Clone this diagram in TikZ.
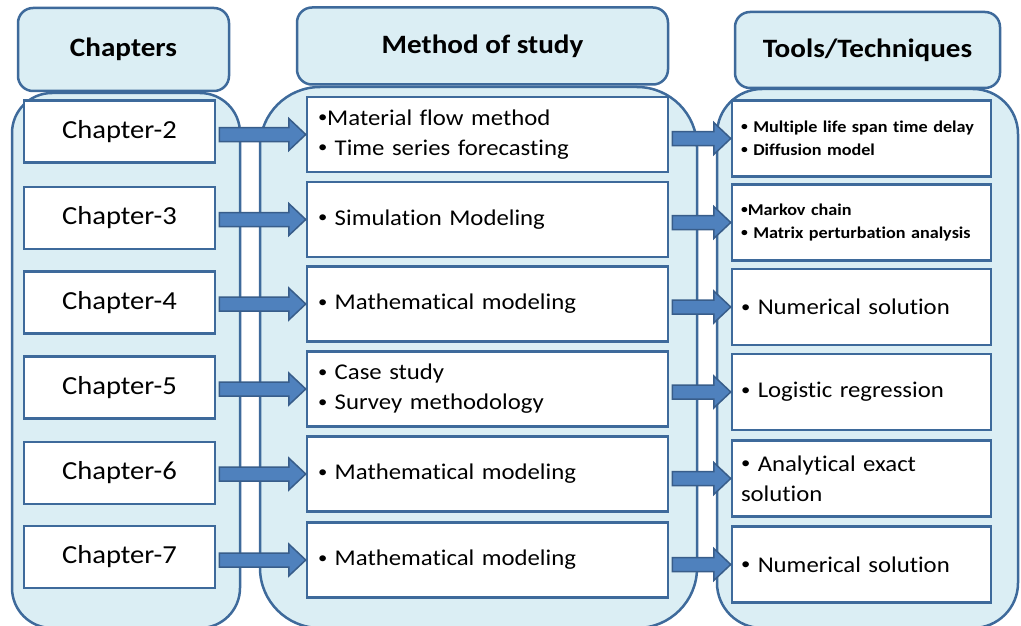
\documentclass[tikz,border=0pt]{standalone}
\usepackage{fontspec}
\setmainfont{Carlito}[FakeStretch=1.1, Ligatures={NoCommon}]
\usetikzlibrary{calc}
\definecolor{bordc}{RGB}{62,106,155}
\definecolor{lightc}{RGB}{219,238,244}
\definecolor{arrowfill}{RGB}{79,129,189}
\definecolor{arrowline}{RGB}{56,93,138}
\newcommand\bul{\raisebox{0.12em}{\scalebox{0.75}{\textbullet}}}
\newcommand\blockarr[2]{%
  \draw[barrow] let \p1=(#1.east), \p2=(#2.west) in
    (\x1+3pt,\y2+7pt) -- (\x2-17pt,\y2+7pt) -- (\x2-17pt,\y2+16pt) -- (\x2,\y2)
    -- (\x2-17pt,\y2-16pt) -- (\x2-17pt,\y2-7pt) -- (\x1+3pt,\y2-7pt) -- cycle;}
\tikzset{
  cont/.style={draw=bordc, fill=lightc, line width=2.5pt, inner sep=0pt},
  hdr/.style={draw=bordc, fill=lightc, line width=2.5pt, rounded corners=15pt,
    inner sep=0pt, font=\bfseries\fontsize{26.5}{30}\selectfont},
  chbox/.style={draw=bordc, fill=white, line width=2.5pt, minimum width=191pt,
    minimum height=62pt, inner sep=0pt, font=\fontsize{26}{30}\selectfont},
  mbox/.style={draw=bordc, fill=white, line width=2.5pt, text width=339pt,
    inner xsep=11pt, inner ysep=0pt, minimum height=75pt, align=left,
    font=\fontsize{22.5}{30}\selectfont},
  rbox/.style={draw=bordc, fill=white, line width=2.5pt, text width=241pt,
    inner xsep=9pt, inner ysep=0pt, minimum height=76pt, align=left,
    font=\fontsize{22.5}{30}\selectfont},
  rsmall/.style={font=\bfseries\fontsize{16.5}{23}\selectfont},
  barrow/.style={draw=arrowline, fill=arrowfill, line width=1.5pt, line join=miter}
}
\begin{document}
\hyphenpenalty=10000
\begin{tikzpicture}[x=1pt,y=-1pt]
\useasboundingbox (0,0) rectangle (1021,626);
% containers
\node[cont, rounded corners=40pt, minimum width=228pt, minimum height=535pt] (lc) at (126,360.5) {};
\node[cont, rounded corners=60pt, minimum width=437pt, minimum height=541pt] (mc) at (478.5,357.5) {};
\node[cont, rounded corners=45pt, minimum width=301pt, minimum height=539pt] (rc) at (867.5,358.5) {};
% headers
\node[hdr, minimum width=211pt, minimum height=83pt] (h1) at (123.5,49.5) {Chapters};
\node[hdr, minimum width=371pt, minimum height=77pt] (h2) at (482.5,46) {Method of study};
\node[hdr, minimum width=265pt, minimum height=76pt] (h3) at (867.5,50) {Tools/Techniques};
% chapter boxes
\node[chbox] (c2) at (119.5,131.5) {Chapter-2};
\node[chbox] (c3) at (119.5,218) {Chapter-3};
\node[chbox] (c4) at (119.5,302.5) {Chapter-4};
\node[chbox] (c5) at (119.5,387.5) {Chapter-5};
\node[chbox] (c6) at (119.5,473) {Chapter-6};
\node[chbox] (c7) at (119.5,557) {Chapter-7};
% method boxes
\node[mbox] (m1) at (487.5,134.5) {\bul Material flow method\\\bul{} Time series forecasting};
\node[mbox] (m2) at (487.5,219.5) {\bul{} Simulation Modeling};
\node[mbox] (m3) at (487.5,304) {\bul{} Mathematical modeling};
\node[mbox] (m4) at (487.5,389) {\bul{} Case study\\\bul{} Survey methodology};
\node[mbox] (m5) at (487.5,474) {\bul{} Mathematical modeling};
\node[mbox] (m6) at (487.5,560) {\bul{} Mathematical modeling};
% tool boxes
\node[rbox, rsmall] (r1) at (861.5,138.5) {\bul{} Multiple life span time delay\\\bul{} Diffusion model};
\node[rbox, rsmall] (r2) at (861.5,222.5) {\bul Markov chain\\\bul{} Matrix perturbation analysis};
\node[rbox] (r3) at (861.5,307) {\bul{} Numerical solution};
\node[rbox] (r4) at (861.5,392) {\bul{} Logistic regression};
\node[rbox] (r5) at (861.5,478.5) {\bul{} Analytical exact\\solution};
\node[rbox] (r6) at (861.5,564.5) {\bul{} Numerical solution};
% arrows
\blockarr{c2}{m1}
\blockarr{c3}{m2}
\blockarr{c4}{m3}
\blockarr{c5}{m4}
\blockarr{c6}{m5}
\blockarr{c7}{m6}
\blockarr{m1}{r1}
\blockarr{m2}{r2}
\blockarr{m3}{r3}
\blockarr{m4}{r4}
\blockarr{m5}{r5}
\blockarr{m6}{r6}
\end{tikzpicture}
\end{document}
